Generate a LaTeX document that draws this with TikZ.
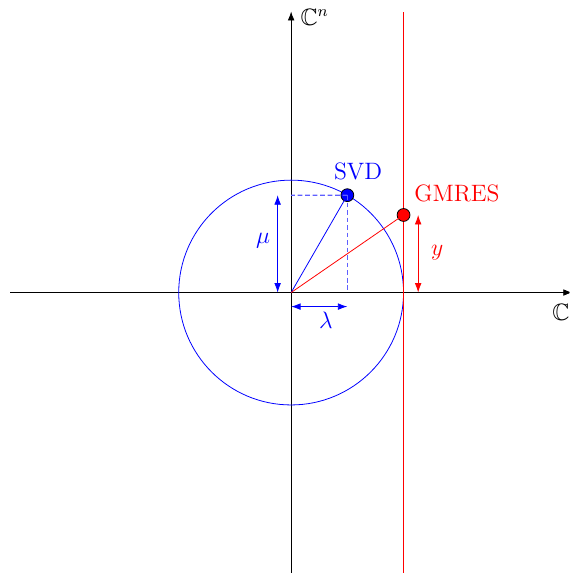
\documentclass[tikz,border=0pt]{standalone}
\usepackage{amssymb}
\usetikzlibrary{arrows.meta}
\definecolor{dashblue}{RGB}{95,95,255}
\tikzset{
  axis/.style={-{Latex[length=4.5pt,width=3.4pt]}, black},
  meas/.style={{Latex[length=4.8pt,width=3.4pt]}-{Latex[length=4.8pt,width=3.4pt]}},
  pt/.style={circle, draw=black, inner sep=0pt, minimum size=6.5pt},
  lbl/.style={font=\large},
  proj/.style={draw=dashblue, dash pattern=on 2.4pt off 1.4pt, line width=0.6pt},
}
\begin{document}
\begin{tikzpicture}
\clip (-5.18,-4.99) rectangle (4.95,5.205);
\useasboundingbox (-5.18,-4.99) rectangle (4.95,5.205);
% coordinates
\coordinate (O) at (0,0);
\coordinate (xl) at (-5,0);
\coordinate (xr) at (5,0);
\coordinate (yb) at (0,-5);
\coordinate (yt) at (0,5);
\coordinate (rb) at (2,-5);
\coordinate (rt) at (2,5);
\coordinate (svdy) at (0,1.732);
\coordinate (svdx) at (1,0);
% axes
\draw[axis] (xl) -- (xr);
\draw[axis] (yb) -- (yt);
\node[lbl, anchor=center] (Cn) at (0.42,4.9) {$\mathbb{C}^n$};
\node[lbl, anchor=center] (C) at (4.8,-0.36) {$\mathbb{C}$};
% circle and red line
\draw[blue] (O) circle (2);
\draw[draw=red, line width=0.5pt] (rb) -- (rt);
% points
\node[pt, fill=blue] (svd) at (60:2) {};
\node[pt, fill=red] (gm) at (2,1.38) {};
% rays
\draw[blue] (O) -- (svd.center);
\draw[red] (O) -- (gm.center);
% dashed projections
\draw[proj] (svd.center) -- (svdy);
\draw[proj] (svd.center) -- (svdx);
% measurement arrows
\coordinate (mut) at (-0.24,1.732);
\coordinate (mub) at (-0.24,0);
\coordinate (lal) at (0,-0.25);
\coordinate (lar) at (1,-0.25);
\coordinate (yt1) at (2.26,1.38);
\coordinate (yb1) at (2.26,0);
\draw[meas, blue] (mub) -- (mut);
\draw[meas, blue] (lal) -- (lar);
\draw[meas, red] (yb1) -- (yt1);
% labels
\node[lbl, blue] (mu) at (-0.5,0.93) {$\mu$};
\node[lbl, blue] (la) at (0.62,-0.49) {$\lambda$};
\node[lbl, red] (yy) at (2.6,0.7) {$y$};
\node[lbl, blue] (svdl) at (1.19,2.16) {SVD};
\node[lbl, red] (gml) at (2.95,1.77) {GMRES};
\end{tikzpicture}
\end{document}
